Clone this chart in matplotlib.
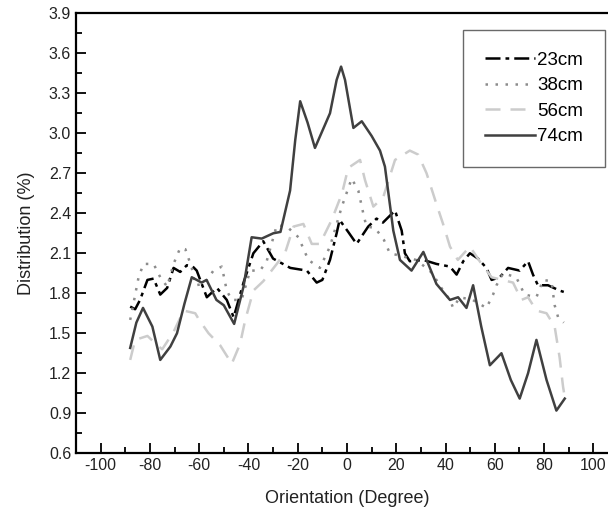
import matplotlib.pyplot as plt
from matplotlib.ticker import MultipleLocator

plt.rcParams['font.family'] = ['Liberation Sans', 'DejaVu Sans']

# 23cm (dash-dot)
x23 = [-88, -86, -84, -81, -78.5, -75.8, -73, -70.4, -67.7, -65, -62.6, -61, -56.9, -52.8, -48.8, -46,
       -42, -38, -34, -30, -23, -16.3, -12.3, -10, -6.9, -4.2, -3, 0.5, 3.9, 8.6, 12, 14.6, 19.5, 22.2,
       23.5, 25.5, 31, 36.3, 41.8, 44.5, 47.2, 49.9, 53.2, 56.6, 58.7, 62, 65.4, 70.1, 73.5, 75.5, 77.5,
       81.6, 86.3, 88]
y23 = [1.70, 1.68, 1.75, 1.90, 1.91, 1.79, 1.84, 1.99, 1.96, 2.01, 2.00, 1.97, 1.77, 1.84, 1.75, 1.62,
       1.88, 2.10, 2.19, 2.06, 1.99, 1.97, 1.88, 1.90, 2.05, 2.25, 2.35, 2.26, 2.17, 2.30, 2.36, 2.33, 2.42, 2.27,
       2.10, 2.04, 2.05, 2.02, 2.00, 1.94, 2.04, 2.10, 2.06, 1.99, 1.90, 1.92, 1.99, 1.97, 2.04, 1.94, 1.86,
       1.86, 1.82, 1.81]

# 38cm (dotted)
x38 = [-88, -86.5, -84.6, -82.6, -78.5, -75.8, -73, -70.4, -67.7, -65.6, -63, -61.6, -58, -54.2, -50.8,
       -48.8, -46.8, -42.8, -39.3, -35.3, -32.6, -28.5, -24.4, -19.7, -15.7, -11, -6.9, -2.1, 1.9, 4.6,
       6.6, 7.9, 11.4, 15, 17.4, 22, 28, 33.6, 36.3, 39, 41.8, 43.1, 45.8, 51, 56.6, 59.3, 60.7, 63.4,
       68.7, 72.1, 76.9, 79.6, 83, 84.3, 85.7, 88]
y38 = [1.60, 1.74, 1.92, 2.02, 2.02, 1.92, 1.85, 2.02, 2.14, 2.13, 1.99, 1.86, 1.87, 1.97, 2.00,
       1.82, 1.75, 1.75, 1.97, 1.97, 2.04, 2.31, 2.30, 2.22, 2.05, 1.99, 2.15, 2.45, 2.66, 2.57,
       2.40, 2.30, 2.29, 2.20, 2.10, 2.08, 2.05, 1.97, 1.90, 1.82, 1.75, 1.69, 1.77, 1.75, 1.69, 1.79, 1.86, 1.95,
       1.92, 1.79, 1.77, 1.90, 1.89, 1.71, 1.62, 1.58]

# 56cm (dashed)
x56 = [-88, -86, -81, -77, -75, -70.4, -66.3, -61.6, -60, -56.2, -51.5, -47.4, -46.8, -43.4, -41.3, -38,
       -34, -28.5, -25, -21.7, -17.7, -14.3, -11, -6.2, -2, 0.5, 5.3, 7.3, 10.7, 14.7, 19.5, 25.5, 28.9,
       32.3, 36.3, 39, 41.8, 45, 49.9, 54.6, 58.7, 63, 67.4, 70.8, 73.5, 76.9, 81, 84.3, 86.3, 87.7, 88.4]
y56 = [1.30, 1.45, 1.48, 1.41, 1.38, 1.51, 1.67, 1.65, 1.60, 1.50, 1.41, 1.29, 1.27, 1.42, 1.60, 1.82,
       1.89, 2.02, 2.11, 2.30, 2.32, 2.17, 2.17, 2.35, 2.55, 2.74, 2.80, 2.65, 2.45, 2.52, 2.80, 2.87, 2.84,
       2.70, 2.47, 2.32, 2.15, 2.05, 2.15, 2.02, 1.92, 1.90, 1.88, 1.75, 1.77, 1.67, 1.65, 1.55, 1.32, 1.10, 1.02]

# 74cm (solid)
x74 = [-88, -85.5, -82.8, -79, -75.8, -71.7, -69, -66, -63, -59, -57, -53, -50, -45.8, -42, -38.7,
       -34.6, -29.9, -27, -23.1, -21, -19, -16, -13, -6.9, -4.2, -2.4, -0.8, 2.6, 6, 10, 13.4, 15.4,
       18.8, 21.5, 26.2, 31, 36.3, 41.8, 45.1, 48.5, 51.2, 54.5, 58, 62.7, 66.5, 70.1, 73.5, 76.9, 81,
       85, 88.4]
y74 = [1.39, 1.58, 1.69, 1.55, 1.30, 1.40, 1.50, 1.72, 1.92, 1.88, 1.90, 1.75, 1.71, 1.57, 1.85, 2.22,
       2.21, 2.25, 2.26, 2.57, 2.95, 3.24, 3.08, 2.89, 3.15, 3.40, 3.50, 3.40, 3.04, 3.09, 2.98, 2.87, 2.75,
       2.27, 2.05, 1.97, 2.11, 1.87, 1.75, 1.77, 1.69, 1.86, 1.55, 1.26, 1.35, 1.15, 1.01, 1.20, 1.45, 1.15,
       0.92, 1.01]

fig = plt.figure(figsize=(6.08, 5.18), dpi=100)
ax = fig.add_axes([0.125, 0.125, 0.8914, 0.8494])

ax.plot(x23, y23, color='black', lw=1.8, linestyle=(0, (6, 2, 1.5, 2)), label='23cm')
ax.plot(x38, y38, color='#8c8c8c', lw=1.8, linestyle=(0, (1, 3)), label='38cm')
ax.plot(x56, y56, color='#cccccc', lw=1.8, linestyle=(0, (6, 4)), label='56cm')
ax.plot(x74, y74, color='#404040', lw=1.8, label='74cm')

ax.set_xlim(-110, 110)
ax.set_ylim(0.6, 3.9)
ax.xaxis.set_major_locator(MultipleLocator(20))
ax.xaxis.set_minor_locator(MultipleLocator(10))
ax.yaxis.set_major_locator(MultipleLocator(0.3))
ax.yaxis.set_minor_locator(MultipleLocator(0.15))
ax.tick_params(which='both', direction='in', top=False, right=False, labelsize=11.5, width=1.3,
               labelcolor='#222222')
ax.tick_params(which='major', length=7)
ax.tick_params(which='minor', length=4)
ax.set_xticks(range(-100, 101, 20))
ax.set_xticklabels([str(v) for v in range(-100, 101, 20)])
ax.set_yticks([0.6 + 0.3 * i for i in range(12)])
ax.set_yticklabels(['%.1f' % (0.6 + 0.3 * i) for i in range(12)])
for s in ax.spines.values():
    s.set_linewidth(1.6)

ax.set_xlabel('Orientation (Degree)', fontsize=13, labelpad=12, color='#222222')
ax.set_ylabel('Distribution (%)', fontsize=13, labelpad=10, color='#222222')

leg = ax.legend(loc='upper left', bbox_to_anchor=(0.714, 0.962), fontsize=13.5, fancybox=False,
                edgecolor='#444444', handlelength=2.7, handletextpad=0.1, borderpad=1.15,
                labelspacing=0.45, borderaxespad=0)
leg.get_frame().set_linewidth(1.0)

fig.savefig('out.png', dpi=100)
